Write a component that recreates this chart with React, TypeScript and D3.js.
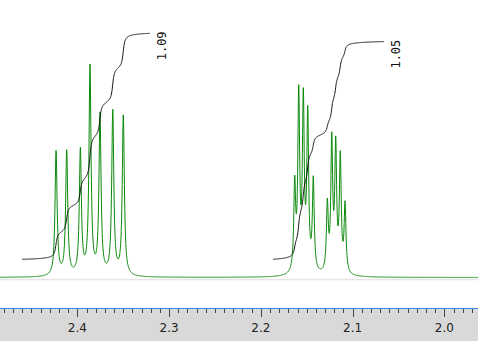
import React, { useMemo } from 'react';
import * as d3 from 'd3';

const W = 478;
const H = 341;

// chemical shift window (ppm), left to right
const ppmDomain = [2.4843, 1.9633];
const majorTicks = [2.4, 2.3, 2.2, 2.1, 2.0];
const tickLabels = ['2.4', '2.3', '2.2', '2.1', '2.0'];

// peak list: positions (ppm), apparent heights (relative, tallest = 100), half widths (ppm)
const peakPpm = [
  2.4232, 2.4116, 2.3967, 2.3862, 2.3753, 2.3614, 2.3499,
  2.1631, 2.1587, 2.1537, 2.1489, 2.1428, 2.1275, 2.1227, 2.1184, 2.1134, 2.1082,
];
const peakHeight = [
  59.7, 60.2, 61.1, 100, 77.5, 78.9, 76.6,
  48.0, 90.6, 89.4, 81.1, 48.0, 37.2, 68.3, 66.7, 59.7, 36.0,
];
const peakHwhm = [
  0.00135, 0.00135, 0.00135, 0.00135, 0.00135, 0.00135, 0.00135,
  0.0012, 0.0012, 0.0012, 0.0012, 0.0012, 0.0012, 0.0012, 0.0012, 0.0012, 0.0012,
];

// integral regions
const integralStart = [2.4603, 2.1867];
const integralEnd = [2.3208, 2.0657];
const integralValues = [1.09, 1.05];
const integralLabels = ['1.09', '1.05'];

function lor(x: number, x0: number, g: number) {
  return (g * g) / ((x - x0) * (x - x0) + g * g);
}

export default function App() {
  const x = d3.scaleLinear().domain(ppmDomain).range([0, W]);
  const y = d3.scaleLinear().domain([0, 100]).range([277.5, 64]);
  const yInt = d3.scaleLinear().domain([0, 1.09]).range([259.3, 33.3]);

  const { spec, integrals } = useMemo(() => {
    // solve amplitudes so that the summed curve reaches the apparent heights
    const amp = peakHeight.slice();
    for (let it = 0; it < 80; it++) {
      for (let i = 0; i < amp.length; i++) {
        let m = 0;
        for (let j = 0; j < amp.length; j++) m += amp[j] * lor(peakPpm[i], peakPpm[j], peakHwhm[j]);
        amp[i] += 0.7 * (peakHeight[i] - m);
      }
    }
    const f = (p: number) => {
      let s = 0;
      for (let j = 0; j < amp.length; j++) s += amp[j] * lor(p, peakPpm[j], peakHwhm[j]);
      return s;
    };
    const step = (ppmDomain[0] - ppmDomain[1]) / (W * 5);
    const spec: [number, number][] = [];
    for (let p = ppmDomain[0]; p >= ppmDomain[1]; p -= step) spec.push([p, f(p)]);

    const integrals = integralStart.map((s, k) => {
      const e = integralEnd[k];
      const pts: [number, number][] = [];
      let acc = 0;
      const raw: [number, number][] = [];
      for (let p = s; p >= e; p -= step) {
        acc += f(p) * step;
        raw.push([p, acc]);
      }
      const total = acc;
      for (const [p, a] of raw) pts.push([p, (a / total) * integralValues[k]]);
      return pts;
    });
    return { spec, integrals };
  }, []);

  const specLine = d3
    .line<[number, number]>()
    .x((d) => x(d[0]))
    .y((d) => y(d[1]));
  const intLine = d3
    .line<[number, number]>()
    .x((d) => x(d[0]))
    .y((d) => yInt(d[1]));

  const minorTicks = d3.range(197, 249).map((v) => v / 100);

  return (
    <svg
      width={W}
      height={H}
      style={{ position: 'absolute', left: 0, top: 0, background: '#fff' }}
    >
      <line x1={0} x2={W} y1={279.5} y2={279.5} stroke="#e6e6e6" strokeWidth={1.5} />
      <path d={specLine(spec) || ''} fill="none" stroke="#0a8a0a" strokeWidth={1} />
      {integrals.map((pts, k) => (
        <path key={k} d={intLine(pts) || ''} fill="none" stroke="#111" strokeWidth={1} />
      ))}
      {integrals.map((pts, k) => {
        const endX = x(integralEnd[k]);
        const topY = yInt(integralValues[k]);
        return (
          <text
            key={'l' + k}
            transform={`translate(${endX + 16},${topY + 27}) rotate(-90)`}
            fontFamily="DejaVu Sans Mono"
            fontSize={12}
            fill="#111"
          >
            {integralLabels[k]}
          </text>
        );
      })}
      <rect x={0} y={308} width={W} height={H - 308} fill="#d9d9d9" />
      <line x1={0} x2={W} y1={308.5} y2={308.5} stroke="#3f88e8" strokeWidth={1} />
      {minorTicks.map((t) => (
        <line
          key={t}
          x1={Math.round(x(t)) + 0.5}
          x2={Math.round(x(t)) + 0.5}
          y1={309}
          y2={313}
          stroke="#444"
          strokeWidth={1}
        />
      ))}
      {majorTicks.map((t, i) => (
        <g key={'m' + t}>
          <line
            x1={Math.round(x(t)) + 0.5}
            x2={Math.round(x(t)) + 0.5}
            y1={309}
            y2={317}
            stroke="#444"
            strokeWidth={1}
          />
          <text
            x={x(t)}
            y={332}
            textAnchor="middle"
            fontFamily="DejaVu Sans"
            fontSize={12}
            fill="#222"
          >
            {tickLabels[i]}
          </text>
        </g>
      ))}
    </svg>
  );
}
